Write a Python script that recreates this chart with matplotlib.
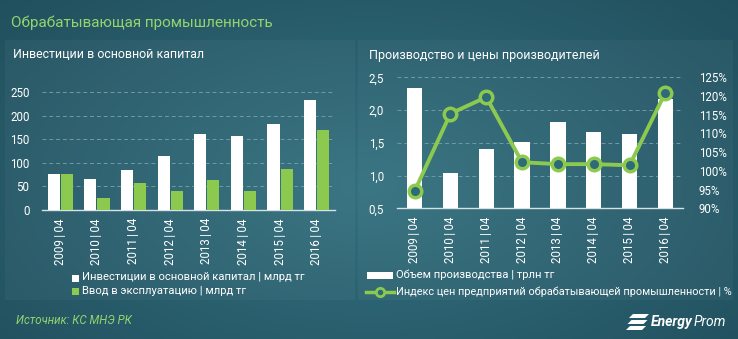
import numpy as np
import matplotlib.pyplot as plt
from matplotlib.patches import Rectangle, Polygon
from matplotlib.lines import Line2D

plt.rcParams['font.family'] = ['Roboto', 'DejaVu Sans']

# data
years = ["2009\u2009|\u200904", "2010\u2009|\u200904", "2011\u2009|\u200904", "2012\u2009|\u200904",
         "2013\u2009|\u200904", "2014\u2009|\u200904", "2015\u2009|\u200904", "2016\u2009|\u200904"]
invest = [75, 65, 85, 113, 160, 157, 181, 232]        # млрд тг
commissioned = [75, 25, 57, 40, 63, 40, 87, 170]      # млрд тг
output_vol = [2.34, 1.04, 1.40, 1.51, 1.82, 1.67, 1.64, 2.17]   # трлн тг
price_index = [94.6, 115.3, 119.7, 102.3, 101.8, 101.8, 101.5, 120.9]  # %

W, H = 738, 339
GREEN = "#8cc94f"
TITLE_GREEN = "#93d46e"
TXT = "#ffffff"
GRID = "#6f9aa6"

fig = plt.figure(figsize=(W / 100, H / 100), dpi=100)

# background: radial teal gradient
bg = fig.add_axes([0, 0, 1, 1], zorder=-10)
yy, xx = np.mgrid[0:1:200j, 0:1:400j]
r = np.sqrt(((xx - 0.5) / 0.75) ** 2 + ((yy - 0.45) / 0.9) ** 2)
c0 = np.array([0x34, 0x71, 0x80]) / 255
c1 = np.array([0x1f, 0x4c, 0x5a]) / 255
t = np.clip(r, 0, 1)[..., None]
bg.imshow(c0 * (1 - t) + c1 * t, extent=[0, 1, 0, 1], aspect="auto", origin="lower")
bg.set_xlim(0, 1)
bg.set_ylim(0, 1)
bg.axis("off")


def px(x, y):
    return x / W, 1 - y / H


# faint panels behind the two charts
for x0, x1 in [(5, 355), (358, 733)]:
    bg.add_patch(Rectangle(px(x0, 300), (x1 - x0) / W, 260 / H,
                           facecolor="white", alpha=0.035, edgecolor="none"))

fig.text(*px(11, 23), "Обрабатывающая промышленность", color=TITLE_GREEN,
         fontsize=11.0, va="center", ha="left")
fig.text(*px(13, 55), "Инвестиции в основной капитал", color=TXT,
         fontsize=8.9, va="center", ha="left")
fig.text(*px(369, 55), "Производство и цены производителей", color=TXT,
         fontsize=9.0, va="center", ha="left")


def style(ax):
    ax.set_facecolor("none")
    for s in ax.spines.values():
        s.set_visible(False)
    ax.spines["bottom"].set_visible(True)
    ax.spines["bottom"].set_color("#d6e2e6")
    ax.spines["bottom"].set_linewidth(1)
    ax.tick_params(length=0, colors=TXT, labelsize=8.3)
    ax.grid(axis="y", color=GRID, linestyle=(0, (4, 3)), linewidth=0.7)
    ax.set_axisbelow(True)


x = np.arange(len(years))

# left chart: investments
ax1 = fig.add_axes([42 / W, 1 - 209.7 / H, 293 / W, 117.7 / H])
style(ax1)
ax1.bar(x - 0.18, invest, width=0.33, color="white", zorder=3)
ax1.bar(x + 0.18, commissioned, width=0.33, color=GREEN, zorder=3)
ax1.set_xlim(-0.5, len(years) - 0.5)
ax1.set_ylim(0, 250)
ax1.set_yticks(range(0, 251, 50))
ax1.set_xticks(x)
ax1.set_xticklabels(years, rotation=90, fontsize=8.3)
ax1.tick_params(axis="y", pad=9)
ax1.tick_params(axis="x", pad=6)
ax1.yaxis.get_gridlines()[0].set_visible(False)

# right chart: production volume and price index
ax2 = fig.add_axes([396.7 / W, 1 - 208.3 / H, 286.6 / W, 131 / H])
style(ax2)
ax2.bar(x, output_vol, width=0.43, color="white", zorder=3)
ax2.set_xlim(-0.5, len(years) - 0.5)
ax2.set_ylim(0.5, 2.5)
ax2.set_yticks([0.5, 1.0, 1.5, 2.0, 2.5])
ax2.set_yticklabels(["0,5", "1,0", "1,5", "2,0", "2,5"])
ax2.set_xticks(x)
ax2.set_xticklabels(years, rotation=90, fontsize=8.3)
ax2.tick_params(axis="y", pad=9)
ax2.tick_params(axis="x", pad=6)
ax2.yaxis.get_gridlines()[0].set_visible(False)

ax3 = ax2.twinx()
ax3.set_facecolor("none")
for s in ax3.spines.values():
    s.set_visible(False)
ax3.plot(x, price_index, color=GREEN, linewidth=2.8, marker="o", markersize=9,
         markerfacecolor="#2f6a79", markeredgecolor=GREEN, markeredgewidth=2.5,
         zorder=5)
ax3.set_ylim(90, 125)
ax3.set_yticks(range(90, 126, 5))
ax3.set_yticklabels([f"{v}%" for v in range(90, 126, 5)])
ax3.tick_params(length=0, colors=TXT, labelsize=8.3, pad=11)

# legends
LEG = 8.1
bg.add_patch(Rectangle(px(72, 281.5), 7 / W, 7 / H, facecolor="white", edgecolor="none"))
fig.text(*px(82, 277.5), "Инвестиции в основной капитал | млрд тг", color=TXT,
         fontsize=LEG, va="center")
bg.add_patch(Rectangle(px(72, 295), 7 / W, 7 / H, facecolor=GREEN, edgecolor="none"))
fig.text(*px(82, 291), "Ввод в эксплуатацию | млрд тг", color=TXT,
         fontsize=LEG, va="center")

bg.add_patch(Rectangle(px(367, 278.5), 26 / W, 7 / H, facecolor="white", edgecolor="none"))
fig.text(*px(396, 275), "Объем производства | трлн тг", color=TXT,
         fontsize=LEG, va="center")
lx0, ly = px(366, 291.5)
lx1, _ = px(394, 291.5)
bg.add_line(Line2D([lx0, lx1], [ly, ly], color=GREEN, linewidth=2.5))
bg.add_line(Line2D([(lx0 + lx1) / 2], [ly], marker="o", markersize=6,
                   markerfacecolor="#2f6a79", markeredgecolor=GREEN, markeredgewidth=2))
fig.text(*px(396, 291.5), "Индекс цен предприятий обрабатывающей промышленности | %",
         color=TXT, fontsize=7.8, va="center")

# footer
fig.text(*px(16, 321), "Источник: КС МНЭ РК", color=TITLE_GREEN, fontsize=8.3,
         style="italic", va="center")

# logo stripes
for i in range(3):
    y0 = 314 + i * 6
    xs = [633 - i * 1.5, 649 - i * 1.5, 647 - i * 1.5 - 2, 631 - i * 1.5 - 2]
    ys = [y0, y0, y0 + 4, y0 + 4]
    bg.add_patch(Polygon([px(a, b) for a, b in zip(xs, ys)], closed=True,
                         facecolor="white", edgecolor="none"))
energy = fig.text(*px(651, 322), "Energy", color=TXT, fontsize=10, style="italic",
                  weight="bold", va="center")
fig.canvas.draw()
ext = energy.get_window_extent()
fig.text(ext.x1 / W + 1 / W, px(0, 322)[1], "Prom", color=TXT, fontsize=10,
         style="italic", va="center")

fig.savefig("out.png", dpi=100)
